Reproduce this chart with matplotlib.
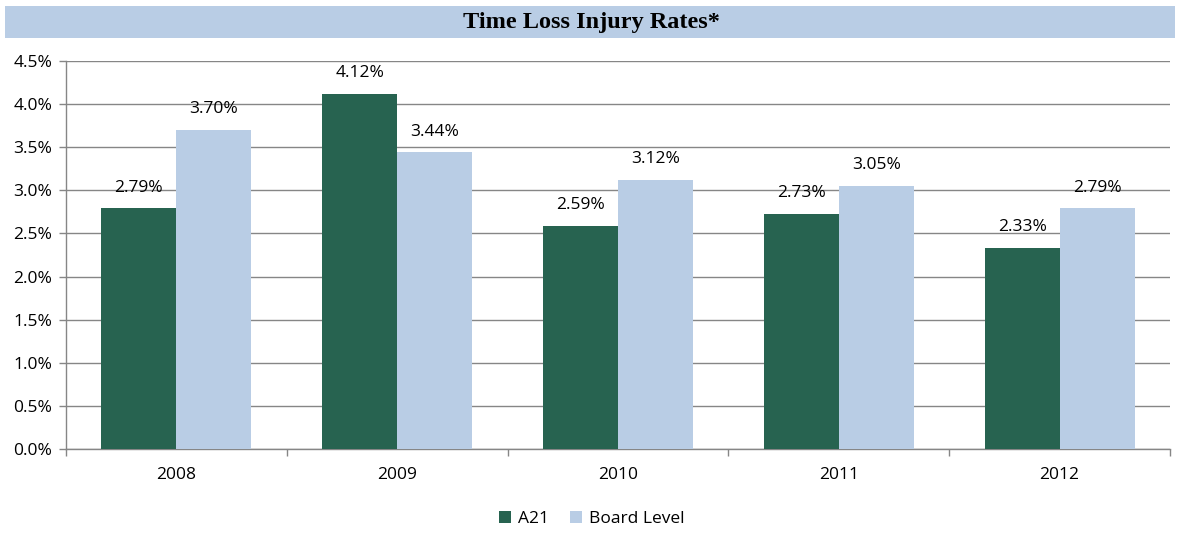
import numpy as np
import matplotlib.pyplot as plt
from matplotlib.patches import Rectangle
from matplotlib.ticker import FuncFormatter, MultipleLocator, FixedLocator

years = ['2008', '2009', '2010', '2011', '2012']
a21 = [2.79, 4.12, 2.59, 2.73, 2.33]
board = [3.70, 3.44, 3.12, 3.05, 2.79]

green = '#276350'
blue = '#b9cde5'
grid_col = '#868686'

plt.rcParams['font.family'] = ['Open Sans', 'DejaVu Sans']

fig = plt.figure(figsize=(11.83, 5.33), dpi=100)
ax = fig.add_axes([66 / 1183, 1 - 449 / 533, (1170 - 66) / 1183, (449 - 61) / 533])

# title band
fig.patches.append(Rectangle((5 / 1183, 1 - 38 / 533), 1170 / 1183, 32 / 533,
                             transform=fig.transFigure, facecolor=blue, edgecolor='none'))
fig.text(0.5, 1 - 22 / 533, 'Time Loss Injury Rates*', ha='center', va='center',
         fontsize=17.5, fontweight='bold', family=['Liberation Serif', 'DejaVu Serif'])

x = np.arange(len(years))
w = 0.34
b1 = ax.bar(x - w / 2, a21, w, color=green, label='A21', zorder=3)
b2 = ax.bar(x + w / 2, board, w, color=blue, label='Board Level', zorder=3)

for bars, vals in ((b1, a21), (b2, board)):
    for r, v in zip(bars, vals):
        ax.annotate('%.2f%%' % v, (r.get_x() + r.get_width() / 2, v),
                    xytext=(0, 15), textcoords='offset points',
                    ha='center', va='center', fontsize=12.5)

ax.set_xlim(-0.5, 4.5)
ax.set_ylim(0, 4.5)
ax.yaxis.set_major_locator(MultipleLocator(0.5))
ax.yaxis.set_major_formatter(FuncFormatter(lambda v, p: '%.1f%%' % v))
ax.grid(axis='y', color=grid_col, linewidth=1, zorder=0)
ax.set_axisbelow(True)

ax.set_xticks(x)
ax.set_xticklabels(years)
ax.xaxis.set_minor_locator(FixedLocator(np.arange(-0.5, 5, 1)))
ax.tick_params(axis='x', which='major', length=0, pad=13, labelsize=12.5)
ax.tick_params(axis='x', which='minor', length=5, color=grid_col, width=1)
ax.tick_params(axis='y', length=5, color=grid_col, width=1, labelsize=12.5, pad=5)

for s in ['top', 'right']:
    ax.spines[s].set_visible(False)
for s in ['left', 'bottom']:
    ax.spines[s].set_color(grid_col)
    ax.spines[s].set_linewidth(1)

fig.legend(handles=[b1, b2], loc='center', bbox_to_anchor=(0.5, 1 - 519 / 533),
           ncol=2, frameon=False, fontsize=12.5, handlelength=0.7, handleheight=0.7,
           columnspacing=1.2, handletextpad=0.4)

fig.savefig('out.png', dpi=100)
